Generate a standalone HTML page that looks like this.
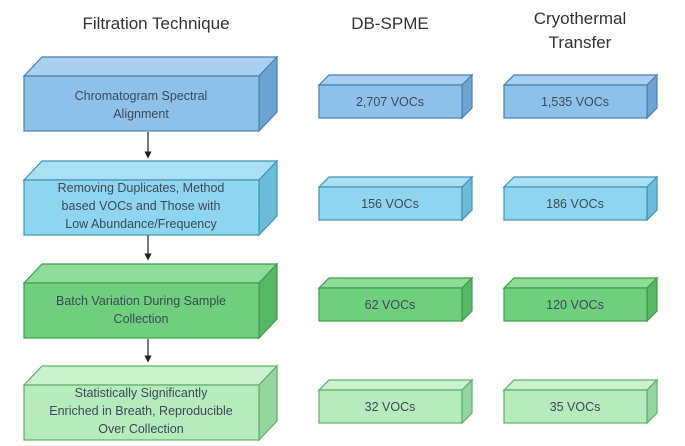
<!DOCTYPE html>
<html><head><meta charset="utf-8"><style>
body{margin:0;background:#fff}
svg{display:block;font-family:"Liberation Sans",sans-serif}
</style></head><body>
<svg width="685" height="446" viewBox="0 0 685 446">
<defs><marker id="a" markerWidth="6" markerHeight="6" refX="3" refY="3" orient="auto"><path d="M0,0L6,3L0,6z" fill="#222"/></marker></defs>
<g fill="#333" font-size="17" text-anchor="middle">
<text x="156" y="29">Filtration Technique</text>
<text x="390" y="29">DB-SPME</text>
<text x="580" y="24">Cryothermal</text>
<text x="580" y="48">Transfer</text>
</g>
<g stroke="#222" stroke-width="1.2" marker-end="url(#a)">
<line x1="148" y1="132" x2="148" y2="155"/>
<line x1="148" y1="235" x2="148" y2="257"/>
<line x1="148" y1="339" x2="148" y2="359"/>
</g>
<g stroke-width="1.2" font-size="12.5" text-anchor="middle">
<!-- row1 -->
<g stroke="#4a7fae"><path d="M24,76L42,57H277L259,76Z" fill="#a9d0f1"/><path d="M259,76L277,57V112L259,131Z" fill="#6ea4d3"/><rect x="24" y="76" width="235" height="55" fill="#8ec1ea"/>
<path d="M319,85L329,75H472L462,85Z" fill="#a9d0f1"/><path d="M462,85L472,75V108L462,118Z" fill="#6ea4d3"/><rect x="319" y="85" width="143" height="33" fill="#8ec1ea"/>
<path d="M504,85L514,75H657L647,85Z" fill="#a9d0f1"/><path d="M647,85L657,75V108L647,118Z" fill="#6ea4d3"/><rect x="504" y="85" width="143" height="33" fill="#8ec1ea"/></g>
<!-- row2 -->
<g stroke="#3f93b3"><path d="M24,180L42,161H277L259,180Z" fill="#a9e0f4"/><path d="M259,180L277,161V216L259,235Z" fill="#6cbcd9"/><rect x="24" y="180" width="235" height="55" fill="#8ed5ef"/>
<path d="M319,187L329,177H472L462,187Z" fill="#a9e0f4"/><path d="M462,187L472,177V210L462,220Z" fill="#6cbcd9"/><rect x="319" y="187" width="143" height="33" fill="#8ed5ef"/>
<path d="M504,187L514,177H657L647,187Z" fill="#a9e0f4"/><path d="M647,187L657,177V210L647,220Z" fill="#6cbcd9"/><rect x="504" y="187" width="143" height="33" fill="#8ed5ef"/></g>
<!-- row3 -->
<g stroke="#3f9b4c"><path d="M24,283L42,264H277L259,283Z" fill="#8fdc99"/><path d="M259,283L277,264V319L259,338Z" fill="#55b864"/><rect x="24" y="283" width="235" height="55" fill="#6fcf7c"/>
<path d="M319,288L329,278H472L462,288Z" fill="#8fdc99"/><path d="M462,288L472,278V311L462,321Z" fill="#55b864"/><rect x="319" y="288" width="143" height="33" fill="#6fcf7c"/>
<path d="M504,288L514,278H657L647,288Z" fill="#8fdc99"/><path d="M647,288L657,278V311L647,321Z" fill="#55b864"/><rect x="504" y="288" width="143" height="33" fill="#6fcf7c"/></g>
<!-- row4 -->
<g stroke="#5fae6a"><path d="M24,385L42,366H277L259,385Z" fill="#cbf2cf"/><path d="M259,385L277,366V421L259,440Z" fill="#95d69e"/><rect x="24" y="385" width="235" height="55" fill="#b6ebbd"/>
<path d="M319,390L329,380H472L462,390Z" fill="#cbf2cf"/><path d="M462,390L472,380V413L462,423Z" fill="#95d69e"/><rect x="319" y="390" width="143" height="33" fill="#b6ebbd"/>
<path d="M504,390L514,380H657L647,390Z" fill="#cbf2cf"/><path d="M647,390L657,380V413L647,423Z" fill="#95d69e"/><rect x="504" y="390" width="143" height="33" fill="#b6ebbd"/></g>
<g fill="#3b4a5a" stroke="none">
<text x="141" y="100">Chromatogram Spectral</text><text x="141" y="118">Alignment</text>
<text x="141" y="192">Removing Duplicates, Method</text><text x="141" y="210">based VOCs and Those with</text><text x="141" y="228">Low Abundance/Frequency</text>
<text x="141" y="305">Batch Variation During Sample</text><text x="141" y="323">Collection</text>
<text x="141" y="397">Statistically Significantly</text><text x="141" y="415">Enriched in Breath, Reproducible</text><text x="141" y="433">Over Collection</text>
<text x="390" y="106">2,707 VOCs</text><text x="575" y="106">1,535 VOCs</text>
<text x="390" y="208">156 VOCs</text><text x="575" y="208">186 VOCs</text>
<text x="390" y="309">62 VOCs</text><text x="575" y="309">120 VOCs</text>
<text x="390" y="411">32 VOCs</text><text x="575" y="411">35 VOCs</text>
</g></g>
</svg>
</body></html>
